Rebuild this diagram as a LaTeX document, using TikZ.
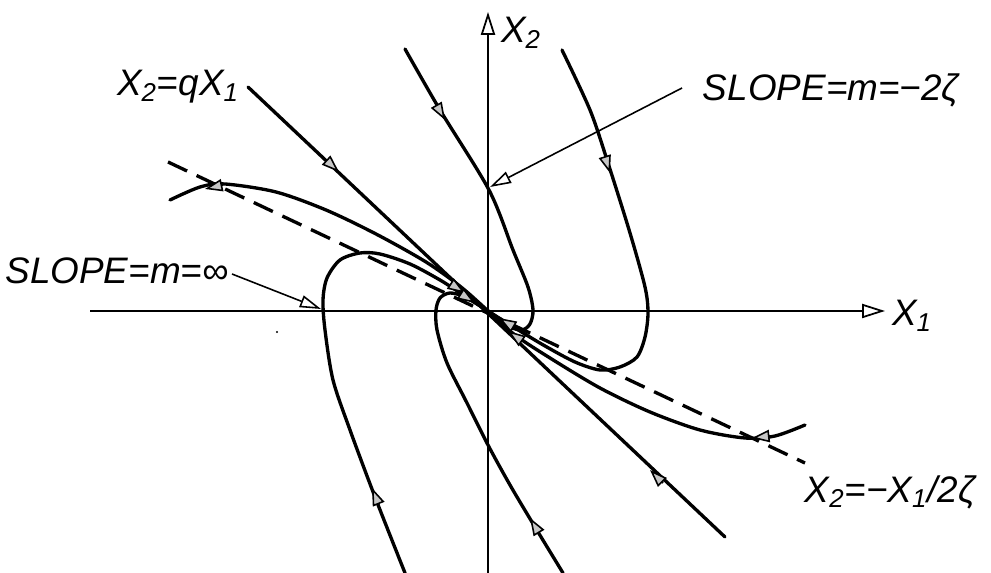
\documentclass[tikz,border=0pt]{standalone}
\usepackage{fontspec}
\setmainfont{Liberation Sans}
\usetikzlibrary{arrows.meta}
\begin{document}
\begin{tikzpicture}[x=0.02cm,y=-0.02cm,
  traj/.style={line width=1.9pt, line cap=round, line join=round},
  axisline/.style={line width=1.1pt, -{Triangle[open,length=13pt,width=8pt,line width=1pt]}},
  eigen/.style={line width=1.9pt, line cap=round},
  iso/.style={line width=1.9pt, dash pattern=on 12pt off 6pt},
  pointer/.style={line width=0.9pt, -{Triangle[open,length=12pt,width=7pt,line width=0.9pt]}},
  flowtip/.style={line width=0.9pt, -{Triangle[length=10pt,width=7pt,fill=gray!45,line width=0.9pt]}},
  lbl/.style={font=\fontsize{21}{24}\selectfont\itshape, inner sep=0pt}
]
\useasboundingbox (0,0) rectangle (991,573);

% axes
\coordinate (O) at (488,311);
\coordinate (x1s) at (90,311);
\coordinate (x1e) at (885,311);
\coordinate (x2s) at (488,573);
\coordinate (x2e) at (488,12);
\draw[axisline] (x1s) -- (x1e);
\draw[axisline] (x2s) -- (x2e);
\node[lbl] (lx1) at (912,316) {X\textsubscript{1}};
\node[lbl] (lx2) at (521,33) {X\textsubscript{2}};

% eigenline X2 = q X1
\coordinate (q1) at (248,87);
\coordinate (q2) at (725,537);
\draw[eigen] (q1) -- (q2);
\node[lbl] (lq) at (178,87) {X\textsubscript{2}=qX\textsubscript{1}};

% dashed line X2 = -X1/2zeta
\coordinate (d1) at (168,162);
\coordinate (d2) at (805,463);
\draw[iso] (d1) -- (d2);
\node[lbl] (ld) at (890,492) {X\textsubscript{2}=−X\textsubscript{1}/2ζ};

% trajectories
\draw[traj] plot[smooth, tension=0.5] coordinates {(405,49) (440,110) (489,190) (513,250) (528,287) (533,310) (530,324) (522,330) (510,327) (498,318) (488,311)};
\draw[traj] plot[smooth, tension=0.5] coordinates {(562,50) (590,110) (608,163) (630,233) (645,287) (648,313) (645,337) (637,357) (620,367) (600,370) (575,362) (545,346) (515,328) (488,311)};
\draw[traj] plot[smooth, tension=0.5] coordinates {(805,425) (775,436) (745,438) (700,430) (650,412) (600,388) (550,358) (515,335) (488,311)};
\draw[traj] plot[smooth, tension=0.5] coordinates {(170,200) (200,187) (225,184) (276,192) (326,210) (376,234) (426,262) (461,287) (488,311)};
\draw[traj] plot[smooth, tension=0.5] coordinates {(405,573) (375,497) (350,430) (333,380) (325,330) (323,300) (327,278) (340,260) (360,253) (380,254) (410,264) (440,280) (465,296) (488,311)};
\draw[traj] plot[smooth, tension=0.5] coordinates {(563,573) (535,527) (510,485) (488,445) (467,403) (447,363) (437,330) (436,310) (440,298) (450,293) (465,297) (488,311)};

% flow arrowheads
\draw[flowtip] (437,106) -- (445,120);
\draw[flowtip] (605,157) -- (610,173);
\draw[flowtip] (770,436) -- (752,438);
\draw[flowtip] (223,185) -- (205,189);
\draw[flowtip] (379,505) -- (372,488);
\draw[flowtip] (539,533) -- (530,518);
\draw[flowtip] (326,160) -- (339,172);
\draw[flowtip] (663,483) -- (650,470);
\draw[flowtip] (451,284) -- (465,293);
\draw[flowtip] (461,294) -- (475,303);
\draw[flowtip] (514,327) -- (499,318);
\draw[flowtip] (522,341) -- (508,331);

% slope annotations
\node[lbl] (ls1) at (831,90) {SLOPE=m=−2ζ};
\coordinate (p1s) at (682,88);
\coordinate (p1e) at (490,187);
\draw[pointer] (p1s) -- (p1e);
\node[lbl] (ls2) at (117,271) {SLOPE=m=∞};
\coordinate (p2s) at (232,274);
\coordinate (p2e) at (321,309);
\draw[pointer] (p2s) -- (p2e);

% speck
\fill (277,332) circle (1.2);
\end{tikzpicture}
\end{document}
